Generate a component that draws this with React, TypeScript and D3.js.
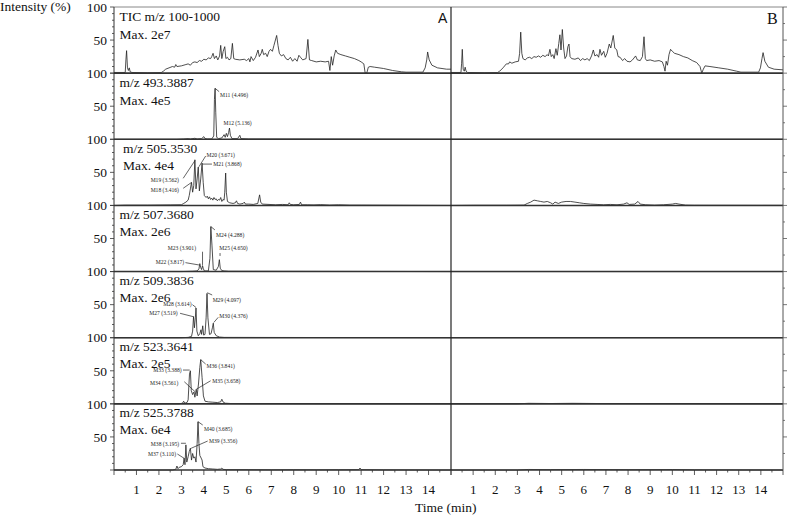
import React from 'react'
import * as d3 from 'd3'

type Pt = [number, number]

// Row titles and max intensities
const rowTitles = ['TIC m/z 100-1000', 'm/z 493.3887', 'm/z 505.3530', 'm/z 507.3680', 'm/z 509.3836', 'm/z 523.3641', 'm/z 525.3788']
const rowMax = ['Max. 2e7', 'Max. 4e5', 'Max. 4e4', 'Max. 2e6', 'Max. 2e6', 'Max. 2e5', 'Max. 6e4']
const xTickLabels = [1, 2, 3, 4, 5, 6, 7, 8, 9, 10, 11, 12, 13, 14]
const yTickLabels = [50, 100]

// Traces, [time (min), intensity (%)]
const ticA: Pt[] = [[0, 1], [0.5, 1], [0.53, 20], [0.56, 34], [0.6, 8], [0.64, 4], [0.68, 8], [0.72, 2], [0.8, 1], [1.5, 0.5], [2.1, 0.8], [2.2, 3], [2.3, 6], [2.45, 8], [2.6, 10], [2.7, 9], [2.75, 13], [2.8, 10], [3.0, 11], [3.2, 13], [3.3, 14], [3.4, 12], [3.5, 16], [3.6, 17], [3.7, 16], [3.8, 19], [3.9, 18], [4.0, 21], [4.1, 20], [4.2, 23], [4.3, 22], [4.35, 25], [4.41, 30], [4.47, 22], [4.55, 26], [4.62, 20], [4.7, 26], [4.75, 42], [4.8, 22], [4.86, 33], [4.93, 40], [4.98, 22], [5.05, 24], [5.12, 20], [5.2, 22], [5.27, 45], [5.33, 22], [5.4, 21], [5.6, 20], [5.8, 21], [5.9, 19], [6.0, 22], [6.05, 17], [6.1, 25], [6.2, 19], [6.3, 24], [6.41, 35], [6.47, 25], [6.55, 30], [6.6, 36], [6.66, 28], [6.75, 30], [6.82, 25], [6.9, 33], [6.97, 36], [7.05, 33], [7.12, 42], [7.24, 57], [7.3, 42], [7.36, 30], [7.45, 26], [7.55, 28], [7.65, 22], [7.75, 20], [7.85, 24], [7.95, 18], [8.05, 22], [8.15, 18], [8.23, 27], [8.3, 24], [8.4, 20], [8.55, 22], [8.63, 51], [8.7, 20], [8.8, 19], [9.0, 17], [9.2, 18], [9.4, 17], [9.55, 18], [9.61, 4], [9.67, 25], [9.73, 12], [9.8, 26], [9.87, 35], [9.95, 30], [10.1, 28], [10.3, 26], [10.5, 24], [10.7, 22], [10.9, 19], [11.0, 17], [11.12, 14], [11.18, 0], [11.25, 0], [11.32, 9], [11.4, 10], [11.6, 9], [12.0, 7], [12.4, 4], [12.8, 2], [13.0, 1.5], [13.75, 1.5], [13.85, 8], [13.92, 20], [13.96, 32], [14.03, 20], [14.15, 12], [14.4, 8], [14.8, 6], [15.0, 6]]

const mz493A: Pt[] = [[0, 0], [2.8, 0], [3.1, 0.5], [3.3, 1], [3.4, 0.5], [3.6, 1.5], [3.7, 0.5], [3.9, 1], [4.0, 4], [4.05, 1], [4.15, 0.5], [4.35, 0.5], [4.44, 5], [4.47, 60], [4.5, 77], [4.53, 40], [4.57, 3], [4.65, 1], [4.8, 2], [4.9, 7], [4.95, 3], [5.0, 9], [5.05, 4], [5.1, 10], [5.14, 17], [5.18, 6], [5.25, 1], [5.5, 1], [5.6, 6], [5.65, 1], [6, 0.5], [15, 0]]

const mz505A: Pt[] = [[0, 0], [0.5, 0.5], [1.5, 0.5], [2.5, 0.8], [3.0, 1], [3.1, 3], [3.2, 5], [3.3, 8], [3.35, 15], [3.4, 25], [3.45, 35], [3.5, 20], [3.55, 30], [3.6, 69], [3.65, 25], [3.7, 40], [3.75, 58], [3.8, 22], [3.86, 40], [3.92, 64], [3.97, 35], [4.02, 15], [4.1, 12], [4.15, 14], [4.2, 10], [4.25, 13], [4.3, 9], [4.35, 11], [4.4, 8], [4.45, 12], [4.5, 9], [4.55, 10], [4.6, 7], [4.65, 9], [4.7, 8], [4.75, 12], [4.8, 6], [4.85, 9], [4.9, 8], [4.93, 20], [4.97, 49], [5.0, 20], [5.05, 6], [5.15, 4], [5.3, 3], [5.4, 4], [5.45, 7], [5.5, 3], [5.6, 2], [5.75, 3], [5.8, 5], [5.85, 2], [6.0, 2], [6.2, 1.5], [6.4, 3], [6.48, 16], [6.53, 5], [6.6, 2], [6.9, 1.5], [7.2, 1], [7.5, 1.5], [7.75, 1], [7.8, 4], [7.85, 1.5], [8.0, 1], [8.25, 1.5], [8.3, 5], [8.35, 1], [8.6, 1], [8.9, 0.8], [9.2, 1.2], [9.6, 0.6], [10.0, 1], [10.5, 0.5], [11, 0.5], [15, 0]]

const mz507A: Pt[] = [[0, 0], [3.0, 0], [3.5, 0.5], [3.7, 1], [3.78, 4], [3.82, 12], [3.86, 6], [3.9, 3], [3.94, 9], [3.97, 5], [4.02, 1], [4.2, 1], [4.27, 20], [4.31, 68], [4.36, 40], [4.42, 3], [4.55, 2], [4.65, 8], [4.69, 18], [4.73, 5], [4.8, 1.5], [4.9, 1], [5.1, 0.5], [15, 0]]

const mz509A: Pt[] = [[0, 0], [3.0, 0], [3.3, 0.5], [3.45, 2], [3.5, 10], [3.54, 32], [3.58, 15], [3.62, 30], [3.65, 45], [3.69, 10], [3.75, 3], [3.82, 6], [3.87, 12], [3.9, 5], [3.95, 18], [3.99, 4], [4.05, 5], [4.1, 30], [4.14, 67], [4.18, 30], [4.25, 5], [4.32, 6], [4.38, 15], [4.42, 22], [4.46, 8], [4.55, 3], [4.7, 1], [4.9, 0.5], [15, 0]]

const mz523A: Pt[] = [[0, 0], [2.9, 0], [3.05, 1], [3.1, 4], [3.15, 1], [3.25, 2], [3.3, 6], [3.36, 45], [3.4, 50], [3.44, 20], [3.5, 14], [3.56, 18], [3.6, 10], [3.66, 22], [3.7, 12], [3.76, 30], [3.82, 55], [3.86, 67], [3.92, 40], [3.98, 12], [4.05, 4], [4.2, 3], [4.4, 2.5], [4.6, 2], [4.75, 3], [4.8, 7], [4.85, 3], [4.95, 1], [5.2, 0.5], [6, 0.3], [15, 0]]

const mz525A: Pt[] = [[0, 0], [2.6, 0], [2.75, 1], [2.8, 6], [2.85, 2], [2.9, 4], [3.0, 5], [3.08, 8], [3.12, 18], [3.16, 8], [3.2, 38], [3.24, 12], [3.3, 20], [3.35, 28], [3.4, 33], [3.45, 15], [3.5, 25], [3.55, 18], [3.6, 20], [3.65, 12], [3.7, 40], [3.74, 73], [3.78, 40], [3.82, 22], [3.88, 18], [3.92, 15], [3.96, 5], [4.05, 3], [4.2, 2], [4.4, 1.5], [4.6, 1], [4.75, 1.5], [4.8, 3], [4.85, 1], [5.0, 0.5], [6, 0.5], [7, 0.3], [8, 0.4], [9, 0.3], [10, 0.4], [10.9, 0.5], [10.95, 3], [11.0, 0.5], [12, 0.2], [15, 0]]

const ticB: Pt[] = [[0, 1], [0.45, 1], [0.48, 15], [0.51, 36], [0.55, 6], [0.6, 3], [0.64, 9], [0.68, 3], [0.75, 1], [1.5, 0.5], [2.1, 0.8], [2.2, 3], [2.35, 8], [2.5, 14], [2.6, 14], [2.65, 17], [2.75, 15], [2.9, 17], [3.05, 18], [3.1, 30], [3.15, 62], [3.2, 30], [3.25, 22], [3.35, 20], [3.45, 23], [3.55, 24], [3.65, 22], [3.75, 25], [3.85, 24], [3.95, 26], [4.05, 24], [4.15, 27], [4.25, 25], [4.35, 28], [4.4, 26], [4.47, 36], [4.53, 25], [4.6, 28], [4.66, 22], [4.74, 37], [4.8, 27], [4.87, 45], [4.92, 58], [4.97, 35], [5.03, 66], [5.09, 38], [5.15, 22], [5.22, 26], [5.28, 40], [5.33, 44], [5.38, 25], [5.45, 22], [5.6, 21], [5.75, 23], [5.85, 19], [5.95, 22], [6.05, 20], [6.15, 22], [6.25, 19], [6.35, 26], [6.43, 35], [6.5, 26], [6.6, 28], [6.67, 24], [6.73, 36], [6.8, 27], [6.9, 33], [6.97, 24], [7.05, 30], [7.15, 44], [7.22, 38], [7.33, 57], [7.4, 38], [7.49, 35], [7.55, 25], [7.64, 24], [7.75, 19], [7.85, 22], [7.95, 18], [8.09, 17], [8.2, 20], [8.34, 26], [8.42, 20], [8.55, 19], [8.65, 25], [8.72, 55], [8.78, 22], [8.84, 19], [9.0, 20], [9.2, 18], [9.4, 19], [9.55, 17], [9.62, 10], [9.67, 3], [9.72, 18], [9.78, 12], [9.85, 28], [9.92, 36], [10.0, 33], [10.1, 30], [10.3, 28], [10.5, 25], [10.7, 23], [10.9, 19], [11.1, 16], [11.25, 10], [11.33, 0], [11.4, 6], [11.48, 11], [11.7, 10], [12.1, 8], [12.5, 6], [12.9, 3], [13.1, 1.5], [13.9, 1.5], [13.98, 8], [14.05, 22], [14.1, 31], [14.18, 18], [14.34, 9], [14.6, 6], [15, 5]]

const mz493B: Pt[] = [[0, 0], [15, 0]]

const mz505B: Pt[] = [[0, 0], [1.0, 0.3], [2.5, 0.3], [3.3, 0.5], [3.45, 3], [3.6, 5], [3.75, 8], [3.9, 7], [4.05, 6], [4.2, 5], [4.35, 6], [4.5, 4], [4.6, 2], [4.7, 5], [4.85, 3], [5.0, 5], [5.2, 6], [5.4, 6], [5.6, 5], [5.8, 4], [6.0, 3], [6.3, 2], [6.6, 1.5], [6.9, 1], [7.2, 1.5], [7.5, 1], [7.8, 2], [7.95, 4], [8.05, 1.5], [8.3, 2], [8.45, 6], [8.55, 2], [8.8, 1], [9.2, 0.5], [9.6, 1], [10.0, 2], [10.15, 3], [10.3, 2], [10.6, 0.5], [11, 0.3], [15, 0.2]]

const mz507B: Pt[] = [[0, 0], [15, 0]]
const mz509B: Pt[] = [[0, 0], [15, 0]]
const mz523B: Pt[] = [[0, 0], [3.0, 0], [3.5, 0.8], [4.5, 0.5], [5.5, 0.8], [7.0, 0.4], [10.0, 0.3], [15, 0]]
const mz525B: Pt[] = [[0, 0], [3.0, 0], [3.5, 0.8], [4.5, 0.6], [6.0, 0.8], [8.0, 0.5], [10.0, 0.7], [11.0, 0.3], [15, 0]]

const tracesA = [ticA, mz493A, mz505A, mz507A, mz509A, mz523A, mz525A]
const tracesB = [ticB, mz493B, mz505B, mz507B, mz509B, mz523B, mz525B]

// Peak annotations in panel A: text baseline position and leader points (time, %)
type Note = { row: number; text: string; pos: Pt; anchor: 'start' | 'end'; leader: Pt[] }
const notes: Note[] = [
  { row: 1, text: 'M11 (4.496)', pos: [4.72, 64], anchor: 'start', leader: [[4.5, 77], [4.68, 72]] },
  { row: 1, text: 'M12 (5.136)', pos: [4.87, 21.6], anchor: 'start', leader: [] },
  { row: 2, text: 'M20 (3.671)', pos: [4.12, 73], anchor: 'start', leader: [[4.08, 74.7], [3.78, 58.5]] },
  { row: 2, text: 'M21 (3.868)', pos: [4.42, 59.6], anchor: 'start', leader: [[4.36, 62.5], [3.93, 62.5]] },
  { row: 2, text: 'M19 (3.562)', pos: [2.89, 35.4], anchor: 'end', leader: [[3.08, 41], [3.6, 67.6]] },
  { row: 2, text: 'M18 (3.416)', pos: [2.89, 20.3], anchor: 'end', leader: [[3.08, 25.9], [3.43, 34.3]] },
  { row: 3, text: 'M24 (4.288)', pos: [4.54, 52.3], anchor: 'start', leader: [[4.31, 68], [4.49, 63]] },
  { row: 3, text: 'M25 (4.650)', pos: [4.69, 32.7], anchor: 'start', leader: [[4.72, 28], [4.72, 23.6]] },
  { row: 3, text: 'M23 (3.901)', pos: [3.65, 32.7], anchor: 'end', leader: [[3.94, 30], [3.94, 10]] },
  { row: 3, text: 'M22 (3.817)', pos: [3.12, 11.5], anchor: 'end', leader: [[3.18, 13.5], [3.78, 10]] },
  { row: 4, text: 'M28 (3.614)', pos: [3.45, 48], anchor: 'end', leader: [[3.49, 50], [3.65, 45.7]] },
  { row: 4, text: 'M27 (3.519)', pos: [2.83, 33.6], anchor: 'end', leader: [[2.94, 36.9], [3.53, 31.8]] },
  { row: 4, text: 'M29 (4.097)', pos: [4.39, 54.7], anchor: 'start', leader: [[4.15, 68], [4.37, 64.6]] },
  { row: 4, text: 'M30 (4.376)', pos: [4.69, 29.8], anchor: 'start', leader: [[4.64, 30.8], [4.44, 23]] },
  { row: 5, text: 'M33 (3.388)', pos: [3.01, 48], anchor: 'end', leader: [[3.07, 51.1], [3.37, 51.1]] },
  { row: 5, text: 'M34 (3.561)', pos: [2.86, 29.2], anchor: 'end', leader: [[3.13, 33.4], [3.61, 18.3]] },
  { row: 5, text: 'M36 (3.841)', pos: [4.12, 54.1], anchor: 'start', leader: [[3.87, 66.5], [4.08, 60.2]] },
  { row: 5, text: 'M35 (3.658)', pos: [4.37, 31.4], anchor: 'start', leader: [[4.3, 34.9], [3.66, 22]] },
  { row: 6, text: 'M40 (3.685)', pos: [4.01, 59], anchor: 'start', leader: [[3.74, 73], [3.95, 68]] },
  { row: 6, text: 'M39 (3.356)', pos: [4.23, 40.8], anchor: 'start', leader: [[4.17, 43.8], [3.43, 32.8]] },
  { row: 6, text: 'M38 (3.195)', pos: [2.9, 37], anchor: 'end', leader: [[2.98, 40.4], [3.2, 40.4]] },
  { row: 6, text: 'M37 (3.110)', pos: [2.76, 21.2], anchor: 'end', leader: [[2.82, 24.2], [3.12, 17.7]] }
]

const W = 789
const H = 518
const top = 7
const bottom = 470
const rowH = (bottom - top) / 7
const serif = 'Liberation Serif, serif'
const sans = 'Liberation Sans, sans-serif'

const xA = d3.scaleLinear().domain([0, 15]).range([114, 451])
const xB = d3.scaleLinear().domain([0, 15]).range([451, 783])
const yRow = (i: number) => d3.scaleLinear().domain([0, 100]).range([top + (i + 1) * rowH, top + i * rowH])

const txt = (size: number, family = serif) => ({ fontFamily: family, fontSize: size })

function App() {
  const rows = d3.range(7)
  const minorX = d3.range(0, 15.01, 0.5)
  const leftTicks = d3.range(0, 101, 10)
  const rightTicks = [25, 50, 75, 100]

  return (
    <svg width={W} height={H} style={{ position: 'absolute', left: 0, top: 0, background: '#fff', fontFamily: serif }}>
      <text x={0} y={11} style={txt(13.5)} fill="#111">Intensity (%)</text>

      {rows.map(i => {
        const y = yRow(i)
        const lineA = d3.line<Pt>().x(d => xA(d[0])).y(d => y(d[1]))
        const lineB = d3.line<Pt>().x(d => xB(d[0])).y(d => y(d[1]))
        const labelOff = i < 2 ? [14, 32] : [13.5, 30.5]
        return (
          <g key={i}>
            {/* left axis ticks */}
            {leftTicks.map(v => (
              <line key={v} x1={xA(0)} x2={xA(0) - (v % 50 === 0 ? 4 : 2)} y1={y(v)} y2={y(v)} stroke="#333" strokeWidth={0.8} />
            ))}
            {/* right axis ticks (panel B) */}
            {rightTicks.map(v => (
              <line key={v} x1={xB(15)} x2={xB(15) + (v % 50 === 0 ? 4 : 2)} y1={y(v)} y2={y(v)} stroke="#555" strokeWidth={0.8} />
            ))}
            {yTickLabels.map(v => (
              <text key={v} x={107} y={y(v)} dy="0.35em" textAnchor="end" style={txt(13.5)} fill="#111">{v}</text>
            ))}
            <path d={lineA(tracesA[i]) || ''} fill="none" stroke="#222" strokeWidth={0.8} strokeLinejoin="round" />
            <path d={lineB(tracesB[i]) || ''} fill="none" stroke="#222" strokeWidth={0.8} strokeLinejoin="round" />
            <text x={i === 2 ? 123 : 119.5} y={y(100) + labelOff[0]} style={txt(13.5)} fill="#111">{rowTitles[i]}</text>
            <text x={i === 2 ? 123 : 119.5} y={y(100) + labelOff[1]} style={txt(13.5)} fill="#111">{rowMax[i]}</text>
            {/* row separator */}
            <line x1={xA(0)} x2={xB(15)} y1={y(0)} y2={y(0)} stroke="#333" strokeWidth={1.6} />
          </g>
        )
      })}

      {/* peak annotations */}
      {notes.map((n, k) => {
        const y = yRow(n.row)
        return (
          <g key={k}>
            {n.leader.length > 1 && (
              <polyline points={n.leader.map(p => `${xA(p[0])},${y(p[1])}`).join(' ')} fill="none" stroke="#222" strokeWidth={0.7} />
            )}
            <text x={xA(n.pos[0])} y={y(n.pos[1])} textAnchor={n.anchor} style={txt(5.6)} fill="#222">{n.text}</text>
          </g>
        )
      })}

      {/* frame */}
      <line x1={xA(0)} x2={xB(15)} y1={top} y2={top} stroke="#888" strokeWidth={1} />
      <line x1={xA(0)} x2={xA(0)} y1={top} y2={bottom} stroke="#333" strokeWidth={1} />
      <line x1={xA(15)} x2={xA(15)} y1={top} y2={bottom} stroke="#222" strokeWidth={1.2} />
      <line x1={xB(15)} x2={xB(15)} y1={top} y2={bottom} stroke="#555" strokeWidth={1} />

      <text x={438} y={23} style={txt(14, sans)} fill="#111">A</text>
      <text x={767} y={24} style={txt(16)} fill="#111">B</text>

      {/* x axes */}
      {[xA, xB].map((x, j) => (
        <g key={j}>
          {minorX.map(t => (
            <line key={t} x1={x(t)} x2={x(t)} y1={bottom} y2={bottom + (Number.isInteger(t) ? 5 : 2.5)} stroke="#333" strokeWidth={0.8} />
          ))}
          {xTickLabels.map(t => (
            <text key={t} x={x(t)} y={494} textAnchor="middle" style={txt(13)} fill="#111">{t}</text>
          ))}
        </g>
      ))}

      <text x={415} y={512} style={txt(13.5)} fill="#111">Time (min)</text>
    </svg>
  )
}

export default App
